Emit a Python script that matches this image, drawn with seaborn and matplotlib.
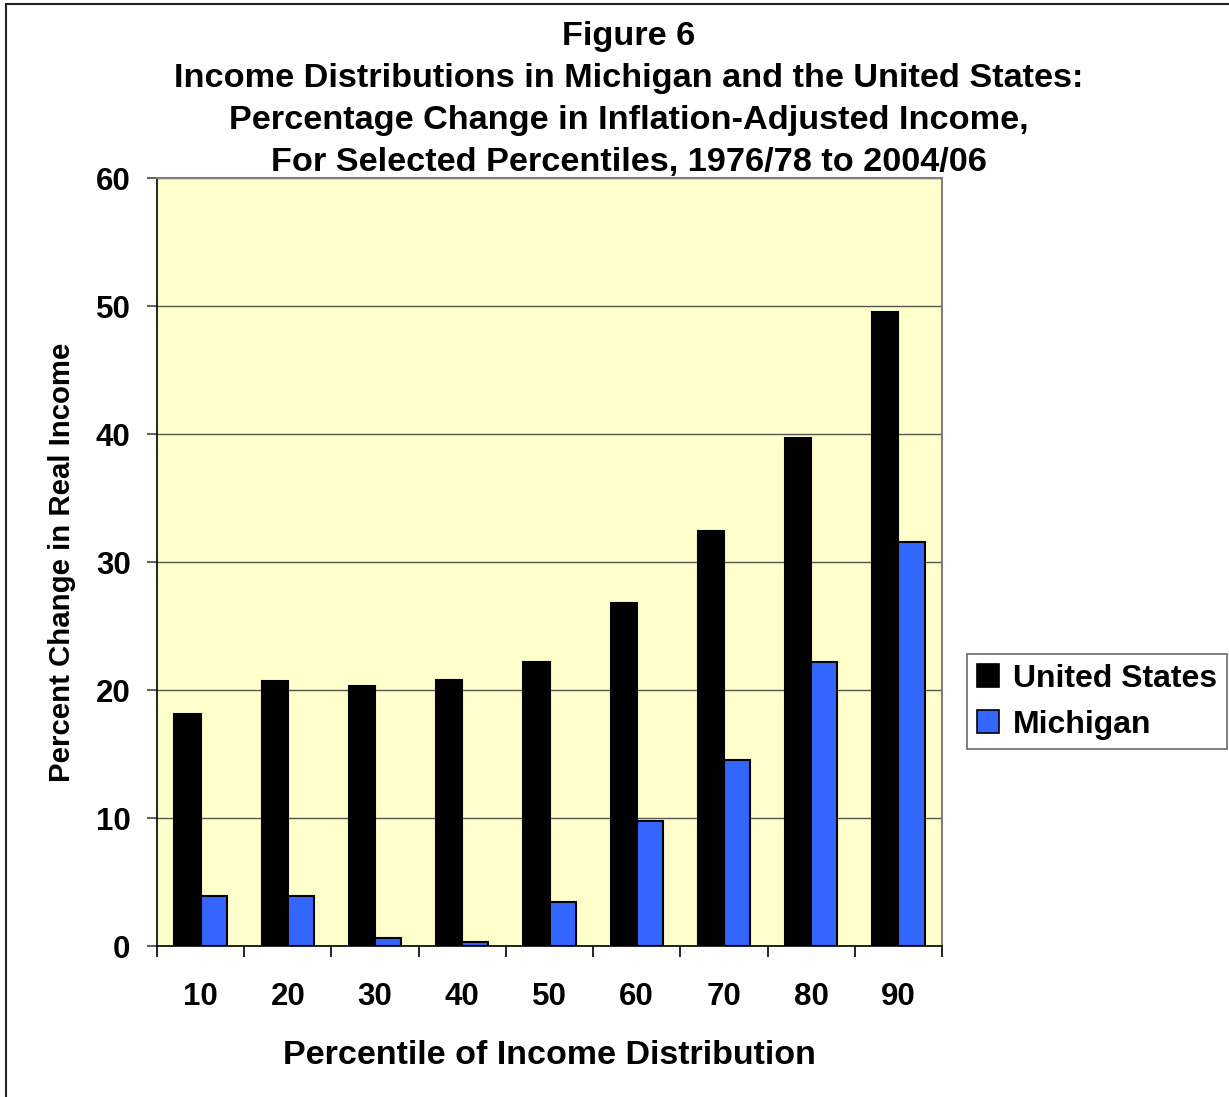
import matplotlib
matplotlib.use("Agg")
import matplotlib.pyplot as plt
from matplotlib.lines import Line2D
import seaborn as sns
import pandas as pd

percentiles = ["10", "20", "30", "40", "50", "60", "70", "80", "90"]
united_states = [18.1, 20.7, 20.3, 20.8, 22.2, 26.8, 32.4, 39.7, 49.5]
michigan = [3.9, 3.9, 0.6, 0.3, 3.4, 9.8, 14.5, 22.2, 31.6]
series_names = ["United States", "Michigan"]
series_colors = ["#000000", "#3366FF"]

df = pd.DataFrame({
    "Percentile": percentiles * 2,
    "Change": united_states + michigan,
    "Region": [series_names[0]] * len(percentiles) + [series_names[1]] * len(percentiles),
})

sns.set_theme(style="white")
plt.rcParams["font.family"] = ["Liberation Sans", "DejaVu Sans"]
plt.rcParams["font.weight"] = "bold"
plt.rcParams["text.color"] = "black"
plt.rcParams["xtick.color"] = "black"
plt.rcParams["ytick.color"] = "black"
plt.rcParams["axes.labelcolor"] = "black"

W, H = 1229, 1097
fig = plt.figure(figsize=(W / 100, H / 100), dpi=100)
fig.patch.set_facecolor("white")
ax = fig.add_axes([157 / W, 1 - 946 / H, (942 - 157) / W, (946 - 178) / H])
ax.set_facecolor("#FFFFCC")

sns.barplot(data=df, x="Percentile", y="Change", hue="Region",
            order=percentiles, hue_order=series_names,
            palette=dict(zip(series_names, series_colors)),
            width=0.6, gap=0, edgecolor="black", linewidth=1.5,
            saturation=1, ax=ax, zorder=3)

ax.set_ylim(0, 60)
ax.set_xlim(-0.5, len(percentiles) - 0.5)
ax.set_yticks(range(0, 61, 10))
ax.yaxis.grid(True, color="#555555", linewidth=1.0, zorder=0)
ax.set_axisbelow(True)

# category boundaries carry the tick marks, centres carry the labels
ax.set_xticks([i - 0.5 for i in range(len(percentiles) + 1)], minor=True)
ax.tick_params(axis="x", which="minor", length=8, width=1.2, color="black", direction="out", bottom=True)
ax.tick_params(axis="x", which="major", length=0, pad=26, labelsize=22.5)
ax.tick_params(axis="y", which="major", length=7, width=1.2, color="#444444", direction="out",
               left=True, pad=12, labelsize=22.5)
for lbl in ax.get_xticklabels() + ax.get_yticklabels():
    lbl.set_fontweight("bold")

for side in ["left", "bottom"]:
    ax.spines[side].set_color("black")
    ax.spines[side].set_linewidth(1.2)
for side in ["top", "right"]:
    ax.spines[side].set_color("#808080")
    ax.spines[side].set_linewidth(1.5)

ax.set_xlabel("Percentile of Income Distribution", fontsize=24.5, fontweight="bold", labelpad=20)
ax.set_ylabel("Percent Change in Real Income", fontsize=21.2, fontweight="bold", labelpad=14)

title_lines = [
    "Figure 6",
    "Income Distributions in Michigan and the United States:",
    "Percentage Change in Inflation-Adjusted Income,",
    "For Selected Percentiles, 1976/78 to 2004/06",
]
for i, line in enumerate(title_lines):
    fig.text(629 / W, 1 - (36 + 42 * i) / H, line, ha="center", va="center",
             fontsize=24.7, fontweight="bold")

handles = [plt.Rectangle((0, 0), 1, 1, facecolor=c, edgecolor="black", linewidth=1.2)
           for c in series_colors]
leg = fig.legend(handles, series_names, loc="upper left",
                 bbox_to_anchor=(967 / W, 1 - 654 / H), frameon=True, fancybox=False,
                 prop={"size": 23, "weight": "bold"}, handlelength=0.7, handleheight=0.7,
                 handletextpad=0.45, borderpad=0.3, labelspacing=0.5, borderaxespad=0)
leg.get_frame().set_edgecolor("#444444")
leg.get_frame().set_linewidth(1.2)
if ax.get_legend():
    ax.get_legend().remove()

# outer chart frame (top and left edges)
fig.add_artist(Line2D([6 / W, 1], [1 - 4 / H, 1 - 4 / H], transform=fig.transFigure,
                      color="#222222", linewidth=1.5))
fig.add_artist(Line2D([6 / W, 6 / W], [0, 1 - 4 / H], transform=fig.transFigure,
                      color="#222222", linewidth=1.5))

fig.savefig("out.png", dpi=100)
